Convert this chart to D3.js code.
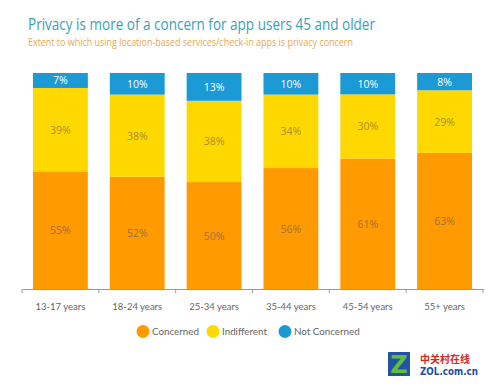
<!DOCTYPE html>
<html><head><meta charset="utf-8">
<script src="https://cdn.jsdelivr.net/npm/d3@7"></script>
<style>body{margin:0;background:#fff}svg{display:block}</style>
</head><body>
<svg id="c" width="500" height="389"></svg>
<script>
const categories = ["13-17 years","18-24 years","25-34 years","35-44 years","45-54 years","55+ years"];
const concerned = [55,52,50,56,61,63];
const indifferent = [39,38,38,34,30,29];
const notConcerned = [7,10,13,10,10,8];
const seriesNames = ["Concerned","Indifferent","Not Concerned"];
const colors = ["#ff9a00","#ffd800","#1b9ad6"];
const textColors = ["#a5703c","#a8902e","#ffffff"];

const data = categories.map((c,i)=>({cat:c,"Concerned":concerned[i],"Indifferent":indifferent[i],"Not Concerned":notConcerned[i]}));
const stack = d3.stack().keys(seriesNames).offset(d3.stackOffsetExpand);
const layers = stack(data);

const svg = d3.select("#c");
const font = "'Open Sans','Noto Sans',sans-serif";
const font2 = "Lato,'Open Sans',sans-serif";

svg.append("text").attr("x",28).attr("y",30).attr("font-family",font).attr("font-size",16.5)
  .attr("fill","#3aa0b8").attr("textLength",347).attr("lengthAdjust","spacingAndGlyphs")
  .text("Privacy is more of a concern for app users 45 and older");
svg.append("text").attr("x",28).attr("y",46).attr("font-family",font).attr("font-size",10.5)
  .attr("fill","#e6a852").attr("textLength",325).attr("lengthAdjust","spacingAndGlyphs")
  .text("Extent to which using location-based services/check-in apps is privacy concern");

const x = d3.scaleBand().domain(categories).range([22,483]).paddingInner(0.286).paddingOuter(0.143);
const y = d3.scaleLinear().domain([0,1]).range([289,73]);

const g = svg.append("g");
layers.forEach((layer,li)=>{
  const lg = g.append("g");
  lg.selectAll("rect").data(layer).join("rect")
    .attr("x",d=>x(d.data.cat)).attr("width",x.bandwidth())
    .attr("y",d=>y(d[1])).attr("height",d=>y(d[0])-y(d[1]))
    .attr("fill",colors[li]);
  lg.selectAll("text").data(layer).join("text")
    .attr("x",d=>x(d.data.cat)+x.bandwidth()/2)
    .attr("y",d=>(y(d[0])+y(d[1]))/2+4)
    .attr("text-anchor","middle").attr("font-family",font).attr("font-size",10.5)
    .attr("fill",textColors[li])
    .text(d=>d.data[layer.key]+"%");
});

// axis
const ax = svg.append("g").attr("transform","translate(0,289)")
  .call(d3.axisBottom(x).tickSize(0).tickPadding(14));
ax.select(".domain").attr("stroke","#999");
ax.selectAll(".tick text").attr("font-family",font2).attr("font-size",9.5).attr("fill","#666");
const bounds = d3.range(categories.length+1).map(i=>x.range()[0]+i*x.step());
ax.selectAll(".bt").data(bounds).join("line").attr("class","bt")
  .attr("x1",d=>d).attr("x2",d=>d).attr("y1",0).attr("y2",4).attr("stroke","#999");

// legend
const legX = [143,213,285];
const leg = svg.append("g");
seriesNames.forEach((s,i)=>{
  leg.append("circle").attr("cx",legX[i]).attr("cy",331.5).attr("r",6.5).attr("fill",colors[i]);
  leg.append("text").attr("x",legX[i]+9).attr("y",335).attr("font-family",font2).attr("font-size",9.8)
    .attr("fill","#666").text(s);
});

// watermark
const wm = svg.append("g");
wm.append("rect").attr("x",388).attr("y",352).attr("width",22).attr("height",24).attr("fill","#2453a6");
wm.append("text").attr("x",399).attr("y",373).attr("text-anchor","middle").attr("font-family","'DejaVu Sans',sans-serif")
  .attr("font-weight","bold").attr("font-size",24).attr("fill","#5fbf3a").text("Z");
wm.append("text").attr("x",420).attr("y",363).attr("font-family","'Noto Sans CJK SC',sans-serif").attr("font-weight","bold")
  .attr("font-size",10).attr("fill","#d42a1e").text("中关村在线");
wm.append("text").attr("x",420).attr("y",375).attr("font-family","'DejaVu Sans',sans-serif").attr("font-weight","bold")
  .attr("font-size",11).attr("fill","#1d4fa0").attr("textLength",58).attr("lengthAdjust","spacingAndGlyphs").text("ZOL.com.cn");
</script>
</body></html>
